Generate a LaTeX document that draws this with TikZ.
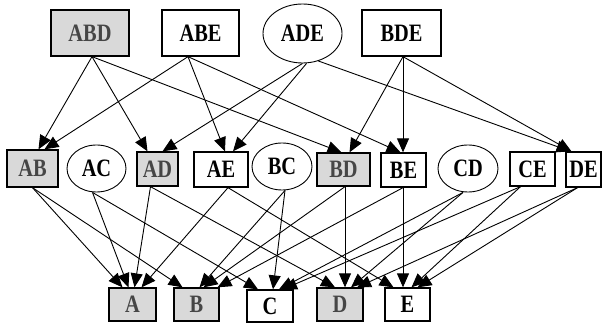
\documentclass[tikz,border=0pt]{standalone}
\usepackage{fontspec}
\setmainfont{Liberation Serif}
\usetikzlibrary{shapes.geometric,arrows.meta}
\newcommand\lbltxt[1]{\scalebox{1.02}[1.25]{#1}}
\tikzset{
  lab/.style={font=\fontsize{20}{20}\selectfont\bfseries, inner sep=0pt, anchor=center},
  bx/.style={lab, draw, line width=1.3pt, rectangle},
  gbx/.style={bx, fill=gray!30, text=gray!55!black},
  el/.style={lab, draw, line width=0.9pt, ellipse},
  edge/.style={line width=0.9pt, -{Triangle[length=14pt,width=12pt]}},
}
\begin{document}
\begin{tikzpicture}[x=1pt,y=-1pt]
\useasboundingbox (0,0) rectangle (602,323);
% top row
\node[gbx, minimum width=78pt, minimum height=46pt] (ABD) at (90,33) {\lbltxt{ABD}};
\node[bx, minimum width=77pt, minimum height=46pt] (ABE) at (200.5,33) {\lbltxt{ABE}};
\node[el, minimum width=79pt, minimum height=59pt] (ADE) at (302.5,33.5) {\lbltxt{ADE}};
\node[bx, minimum width=79pt, minimum height=46pt] (BDE) at (401.5,33) {\lbltxt{BDE}};
% middle row
\node[gbx, minimum width=51pt, minimum height=37pt] (AB) at (32.5,168.5) {\lbltxt{AB}};
\node[el, minimum width=59pt, minimum height=47pt] (AC) at (96.5,168.5) {\lbltxt{AC}};
\node[gbx, minimum width=41pt, minimum height=34pt] (AD) at (157.5,169) {\lbltxt{AD}};
\node[bx, minimum width=54pt, minimum height=35pt] (AE) at (221,169.5) {\lbltxt{AE}};
\node[el, minimum width=60pt, minimum height=47pt] (BC) at (282,166.5) {\lbltxt{BC}};
\node[gbx, minimum width=53pt, minimum height=33pt] (BD) at (343.5,169.5) {\lbltxt{BD}};
\node[bx, minimum width=45pt, minimum height=34pt] (BE) at (403.5,170) {\lbltxt{BE}};
\node[el, minimum width=60pt, minimum height=47pt] (CD) at (468,168.5) {\lbltxt{CD}};
\node[bx, minimum width=45pt, minimum height=34pt] (CE) at (532.5,169) {\lbltxt{CE}};
\node[bx, minimum width=35pt, minimum height=35pt] (DE) at (583.5,169.5) {\lbltxt{DE}};
% bottom row
\node[gbx, minimum width=47pt, minimum height=33pt] (A) at (132.5,304.5) {\lbltxt{A}};
\node[gbx, minimum width=45pt, minimum height=33pt] (B) at (196.5,304.5) {\lbltxt{B}};
\node[bx, minimum width=46pt, minimum height=32pt] (C) at (270,306) {\lbltxt{C}};
\node[gbx, minimum width=46pt, minimum height=33pt] (D) at (340,304.5) {\lbltxt{D}};
\node[bx, minimum width=45pt, minimum height=33pt] (E) at (407.5,304.5) {\lbltxt{E}};
% top -> middle
\draw[edge] ([xshift=2pt]ABD.south) -- ([xshift=6pt]AB.north);
\draw[edge] ([xshift=2pt]ABD.south) -- ([xshift=-10pt]AD.north);
\draw[edge] ([xshift=2pt]ABD.south) -- ([xshift=-2pt]BD.north);
\draw[edge] ([xshift=-12.5pt]ABE.south) -- ([xshift=12pt]AB.north);
\draw[edge] ([xshift=-12.5pt]ABE.south) -- ([xshift=4pt]AE.north);
\draw[edge] ([xshift=-12.5pt]ABE.south) -- ([xshift=-3pt]BE.north);
\draw[edge] (ADE.south) -- ([xshift=5pt]AD.north);
\draw[edge] ([xshift=4pt]ADE.south) -- ([xshift=12pt]AE.north);
\draw[edge] (ADE.300) -- ([xshift=-13pt]DE.north);
\draw[edge] ([xshift=1.5pt]BDE.south) -- ([xshift=6pt]BD.north);
\draw[edge] ([xshift=1.5pt]BDE.south) -- ([xshift=-0.5pt]BE.north);
\draw[edge] ([xshift=1.5pt]BDE.south) -- ([xshift=-12pt]DE.north);
% middle -> bottom
\draw[edge] (AB.south) -- ([xshift=-10pt]A.north);
\draw[edge] (AB.south) -- ([xshift=-14pt]B.north);
\draw[edge] ([xshift=-4pt]AC.south) -- ([xshift=-4pt]A.north);
\draw[edge] ([xshift=-4pt]AC.south) -- ([xshift=-12pt]C.north);
\draw[edge] ([xshift=-7pt]AD.south) -- ([xshift=2pt]A.north);
\draw[edge] ([xshift=-7pt]AD.south) -- ([xshift=-5pt]D.north);
\draw[edge] ([xshift=7pt]AE.south) -- ([xshift=9pt]A.north);
\draw[edge] ([xshift=7pt]AE.south) -- ([xshift=-14pt]E.north);
\draw[edge] ([xshift=3pt]BC.south) -- ([xshift=3pt]B.north);
\draw[edge] ([xshift=3pt]BC.south) -- ([xshift=3pt]C.north);
\draw[edge] ([xshift=1.5pt]BD.south) -- ([xshift=7pt]B.north);
\draw[edge] ([xshift=1.5pt]BD.south) -- ([xshift=5pt]D.north);
\draw[edge] ([xshift=-0.5pt]BE.south) -- ([xshift=21pt]B.north);
\draw[edge] ([xshift=-0.5pt]BE.south) -- ([xshift=-4.5pt]E.north);
\draw[edge] ([xshift=-5pt]CD.south) -- ([xshift=9pt]C.north);
\draw[edge] ([xshift=-5pt]CD.south) -- ([xshift=11pt]D.north);
\draw[edge] ([xshift=-12pt]CE.south) -- ([xshift=13pt]C.north);
\draw[edge] ([xshift=-12pt]CE.south) -- ([xshift=4pt]E.north);
\draw[edge] ([xshift=-6pt]DE.south) -- ([xshift=17pt]D.north);
\draw[edge] ([xshift=-6pt]DE.south) -- ([xshift=10pt]E.north);
\end{tikzpicture}
\end{document}
